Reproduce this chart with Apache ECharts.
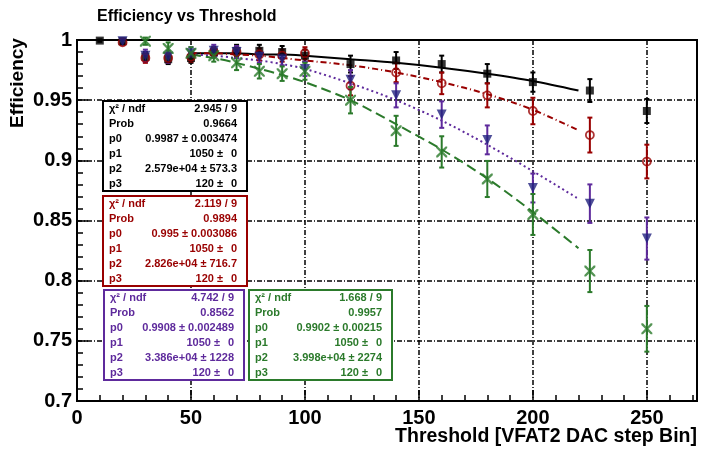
<!DOCTYPE html>
<html>
<head>
<meta charset="utf-8">
<script src="https://cdn.jsdelivr.net/npm/echarts@6/dist/echarts.min.js"></script>
<style>
html,body{margin:0;padding:0;background:#fff;}
#chart{width:703px;height:451px;}
</style>
</head>
<body>
<div id="chart"></div>
<script>
// ---------------- data ----------------
const blackX   = [10,20,30,40,50,60,70,80,90,100,120,140,160,180,200,225,250];
const blackY   = [0.9995,0.999,0.986,0.984,0.985,0.990,0.991,0.991,0.990,0.987,0.980,0.983,0.980,0.972,0.965,0.958,0.941];
const blackErr = [0.001,0.002,0.004,0.004,0.004,0.004,0.005,0.005,0.005,0.005,0.007,0.007,0.007,0.008,0.008,0.0095,0.010];

const redX   = [20,30,40,50,60,70,80,90,100,120,140,160,180,200,225,250];
const redY   = [0.998,0.985,0.985,0.986,0.990,0.990,0.988,0.987,0.989,0.962,0.973,0.964,0.954,0.941,0.921,0.899];
const redErr = [0.002,0.004,0.004,0.004,0.004,0.005,0.005,0.005,0.005,0.008,0.008,0.009,0.010,0.011,0.0145,0.014];

const blueX   = [20,30,40,50,60,70,80,90,100,120,140,160,180,200,225,250];
const blueY   = [0.999,0.987,0.986,0.989,0.991,0.990,0.986,0.984,0.976,0.967,0.954,0.938,0.917,0.877,0.864,0.835];
const blueErr = [0.002,0.005,0.005,0.005,0.005,0.005,0.005,0.005,0.006,0.008,0.010,0.011,0.012,0.012,0.016,0.0175];

const greenX   = [30,40,50,60,70,80,90,100,120,140,160,180,200,225,250];
const greenY   = [0.999,0.993,0.989,0.987,0.981,0.974,0.972,0.974,0.950,0.9245,0.907,0.8845,0.855,0.808,0.760];
const greenErr = [0.003,0.005,0.005,0.005,0.006,0.006,0.006,0.007,0.011,0.0125,0.013,0.015,0.017,0.0175,0.019];

const fitX     = [50,60,70,80,90,100,120,140,160,180,200,220];
const fitBlack = [0.989,0.989,0.989,0.988,0.988,0.987,0.984,0.981,0.977,0.972,0.966,0.958];
const fitRed   = [0.989,0.989,0.988,0.987,0.985,0.983,0.979,0.973,0.965,0.955,0.942,0.925];
const fitBlue  = [0.988,0.987,0.985,0.983,0.980,0.976,0.964,0.950,0.933,0.913,0.891,0.868];
const fitGreen = [0.988,0.985,0.981,0.976,0.971,0.965,0.950,0.930,0.909,0.885,0.857,0.827];

const xTicks = [0,50,100,150,200,250];
const yTicks = [0.7,0.75,0.8,0.85,0.9,0.95,1];

const statLabels = ['χ² / ndf','Prob','p0','p1','p2','p3'];
const statBlack  = ['2.945 / 9','0.9664','0.9987 ± 0.003474','1050 ±|0','2.579e+04 ± 573.3','120 ±|0'];
const statRed    = ['2.119 / 9','0.9894','0.995 ± 0.003086','1050 ±|0','2.826e+04 ± 716.7','120 ±|0'];
const statBlue   = ['4.742 / 9','0.8562','0.9908 ± 0.002489','1050 ±|0','3.386e+04 ± 1228','120 ±|0'];
const statGreen  = ['1.668 / 9','0.9957','0.9902 ± 0.00215','1050 ±|0','3.998e+04 ± 2274','120 ±|0'];

// ---------------- styles ----------------
const C_BLACK = '#000000';
const C_RED = '#990000';
const C_PURPLE = '#5e2a9c';
const C_NAVY = '#22227e';
const C_GREEN = '#2b7a2b';
const FONT = '"Liberation Sans", Arial, Helvetica, sans-serif';

function zip(xs, ys) { return xs.map((x, i) => [x, ys[i]]); }
function zip3(xs, ys, es) { return xs.map((x, i) => [x, ys[i], es[i]]); }

function errRenderer(color) {
  return function (params, api) {
    const x = api.value(0), y = api.value(1), e = api.value(2);
    const lo = api.coord([x, y - e]);
    const hi = api.coord([x, y + e]);
    const c = 2.5;
    const st = { stroke: color, lineWidth: 2 };
    return {
      type: 'group',
      children: [
        { type: 'line', shape: { x1: lo[0], y1: lo[1], x2: hi[0], y2: hi[1] }, style: st },
        { type: 'line', shape: { x1: lo[0] - c, y1: lo[1], x2: lo[0] + c, y2: lo[1] }, style: st },
        { type: 'line', shape: { x1: hi[0] - c, y1: hi[1], x2: hi[0] + c, y2: hi[1] }, style: st }
      ]
    };
  };
}

function errSeries(xs, ys, es, color) {
  return {
    type: 'custom',
    renderItem: errRenderer(color),
    data: zip3(xs, ys, es),
    encode: { x: 0, y: 1 },
    z: 3,
    silent: true
  };
}

function fitSeries(ys, color, dash) {
  return {
    type: 'line',
    data: zip(fitX, ys),
    showSymbol: false,
    smooth: 0.3,
    lineStyle: { color: color, width: 2, type: dash },
    z: 2,
    silent: true
  };
}

const xPath = 'path://M0,0 L3,0 L10,7 L17,0 L20,0 L20,3 L13,10 L20,17 L20,20 L17,20 L10,13 L3,20 L0,20 L0,17 L7,10 L0,3 Z';

// stat boxes
function statBox(left, top, width, height, color, values) {
  const Z = 100;
  const els = [{
    type: 'rect', z: Z,
    shape: { x: left, y: top, width: width, height: height },
    style: { fill: '#ffffff', stroke: color, lineWidth: 2 }
  }];
  const f = 'bold 11px ' + FONT;
  values.forEach((v, i) => {
    const yy = top + 8 + i * 15;
    els.push({ type: 'text', z: Z + 1,
      style: { text: statLabels[i], x: left + 6, y: yy, fill: color, font: f, align: 'left', verticalAlign: 'middle' } });
    const parts = v.split('|');
    if (parts.length === 2) {
      els.push({ type: 'text', z: Z + 1,
        style: { text: parts[0], x: left + width - 24, y: yy, fill: color, font: f, align: 'right', verticalAlign: 'middle' } });
      els.push({ type: 'text', z: Z + 1,
        style: { text: parts[1], x: left + width - 10, y: yy, fill: color, font: f, align: 'right', verticalAlign: 'middle' } });
    } else {
      els.push({ type: 'text', z: Z + 1,
        style: { text: v, x: left + width - 10, y: yy, fill: color, font: f, align: 'right', verticalAlign: 'middle' } });
    }
  });
  return els;
}

const gridDash = [5, 2, 1, 2];

const option = {
  backgroundColor: '#ffffff',
  animation: false,
  grid: { left: 77, right: 6, top: 40, bottom: 50, show: true, borderColor: '#000', borderWidth: 2, backgroundColor: 'transparent' },
  xAxis: {
    type: 'value',
    min: 0, max: 272, interval: 50,
    axisLine: { show: true, onZero: false, lineStyle: { color: '#000', width: 2 } },
    axisTick: { show: true, inside: true, length: 11, lineStyle: { color: '#000', width: 1.5 } },
    minorTick: { show: true, splitNumber: 5, length: 6, lineStyle: { color: '#000', width: 1.5 } },
    splitLine: { show: true, lineStyle: { color: '#000', width: 1.5, type: gridDash } },
    axisLabel: {
      margin: 7, color: '#000', fontFamily: FONT, fontSize: 20, fontWeight: 'bold',
      showMaxLabel: false,
      formatter: v => (xTicks.indexOf(Math.round(v)) >= 0 && Math.abs(v - Math.round(v)) < 1e-6) ? String(Math.round(v)) : ''
    }
  },
  yAxis: {
    type: 'value',
    min: 0.7, max: 1.0, interval: 0.05,
    axisLine: { show: true, onZero: false, lineStyle: { color: '#000', width: 2 } },
    axisTick: { show: true, inside: true, length: 11, lineStyle: { color: '#000', width: 1.5 } },
    minorTick: { show: true, splitNumber: 5, length: 6, lineStyle: { color: '#000', width: 1.5 } },
    splitLine: { show: true, lineStyle: { color: '#000', width: 1.5, type: gridDash } },
    axisLabel: {
      margin: 5, color: '#000', fontFamily: FONT, fontSize: 20, fontWeight: 'bold',
      formatter: v => {
        const r = +(+v).toFixed(2);
        return yTicks.some(t => Math.abs(t - r) < 1e-9) ? String(r) : '';
      }
    }
  },
  graphic: [
    { type: 'text', z: 100, style: { text: 'Efficiency vs Threshold', x: 97, y: 17, fill: '#000', font: 'bold 16px ' + FONT, align: 'left', verticalAlign: 'middle' } },
    { type: 'text', z: 100, rotation: Math.PI / 2, x: 18, y: 83, style: { text: 'Efficiency', x: 0, y: 0, fill: '#000', font: 'bold 19px ' + FONT, align: 'center', verticalAlign: 'middle' } },
    { type: 'text', z: 100, style: { text: 'Threshold [VFAT2 DAC step Bin]', x: 697, y: 437, fill: '#000', font: 'bold 19.5px ' + FONT, align: 'right', verticalAlign: 'middle' } }
  ].concat(
    statBox(103, 101, 144, 90, C_BLACK, statBlack),
    statBox(103, 196, 144, 90, C_RED, statRed),
    statBox(104, 290, 140, 90, C_PURPLE, statBlue),
    statBox(249, 290, 143, 90, C_GREEN, statGreen)
  ),
  series: [
    fitSeries(fitBlack, C_BLACK, 'solid'),
    fitSeries(fitRed, C_RED, [6, 3, 1, 3]),
    fitSeries(fitBlue, C_PURPLE, [2, 3]),
    fitSeries(fitGreen, C_GREEN, [10, 5]),
    errSeries(blackX, blackY, blackErr, C_BLACK),
    errSeries(redX, redY, redErr, C_RED),
    errSeries(blueX, blueY, blueErr, C_PURPLE),
    errSeries(greenX, greenY, greenErr, C_GREEN),
    { type: 'scatter', data: zip(blackX, blackY), symbol: 'rect', symbolSize: 8, itemStyle: { color: C_BLACK }, z: 4, silent: true },
    { type: 'scatter', data: zip(redX, redY), symbol: 'circle', symbolSize: 8, itemStyle: { color: 'rgba(255,255,255,0)', borderColor: C_RED, borderWidth: 1.8 }, z: 4, silent: true },
    { type: 'scatter', data: zip(blueX, blueY), symbol: 'triangle', symbolRotate: 180, symbolSize: 10, itemStyle: { color: C_NAVY }, z: 4, silent: true },
    { type: 'scatter', data: zip(greenX, greenY), symbol: xPath, symbolSize: 11, itemStyle: { color: C_GREEN }, z: 4, silent: true }
  ]
};

const chart = echarts.init(document.getElementById('chart'), null, { renderer: 'canvas' });
chart.setOption(option);
</script>
</body>
</html>
